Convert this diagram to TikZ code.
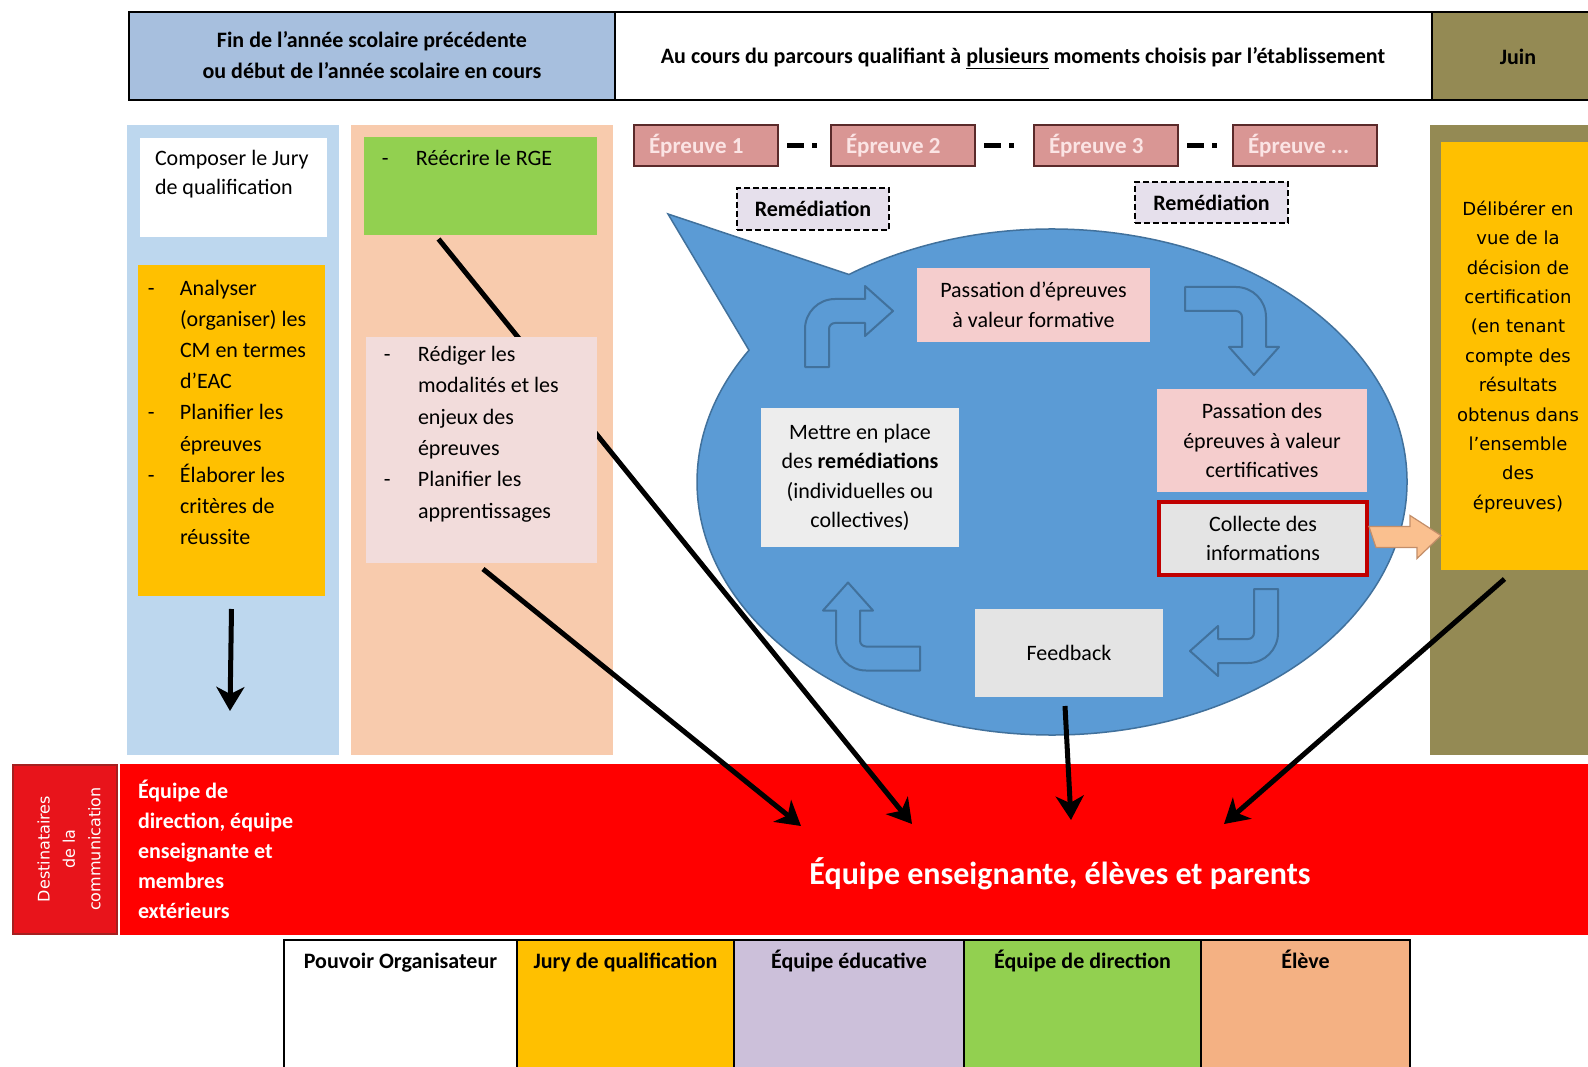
\documentclass[tikz,border=0pt]{standalone}
\usepackage{fontspec}
\setmainfont{Carlito}
\newfontfamily\verd{DejaVu Sans}
\usetikzlibrary{arrows.meta}
\newcommand\myfs[2]{\fontsize{#1}{#2}\selectfont}
\definecolor{hdrblue}{HTML}{A7BFDE}
\definecolor{colblue}{HTML}{BDD7EE}
\definecolor{gold}{HTML}{FFC000}
\definecolor{peach}{HTML}{F8CBAD}
\definecolor{grn}{HTML}{92D050}
\definecolor{pinklt}{HTML}{F2DCDB}
\definecolor{epfill}{HTML}{D99694}
\definecolor{epdraw}{HTML}{5A2A2A}
\definecolor{eptext}{HTML}{FBE4E4}
\definecolor{remfill}{HTML}{E6E0EC}
\definecolor{bblue}{HTML}{5B9BD5}
\definecolor{bdark}{HTML}{41719C}
\definecolor{ppink}{HTML}{F5CDCD}
\definecolor{greyA}{HTML}{EDEDED}
\definecolor{greyB}{HTML}{E4E4E4}
\definecolor{redbrd}{HTML}{C00000}
\definecolor{olive}{HTML}{948A54}
\definecolor{destred}{HTML}{E8141B}
\definecolor{destbrd}{HTML}{A52020}
\definecolor{lav}{HTML}{CCC0DA}
\definecolor{orpeach}{HTML}{F4B183}
\definecolor{orarr}{HTML}{FAC08F}
\newcommand{\bentarrow}[1]{(0,0) -- (0,#1) arc[start angle=180,end angle=90,radius=30] -- (60,#1+30) -- (60,#1+43) -- (88,#1+18) -- (60,#1-7) -- (60,#1+6) -- (30,#1+6) arc[start angle=90,end angle=180,radius=6] -- (24,0) -- cycle}
\begin{document}
\begin{tikzpicture}[x=1pt,y=-1pt,
  rect/.style={inner sep=0pt,outer sep=0pt},
  txt/.style={inner sep=0pt,outer sep=0pt,font=\myfs{22}{29.4}},
  hdr/.style={rect,draw=black,line width=1.5pt},
  epbox/.style={rect,draw=epdraw,line width=2pt,fill=epfill,minimum width=144,minimum height=41,font=\myfs{23}{28}\bfseries,text=eptext},
  rembox/.style={rect,draw=black,dash pattern=on 6pt off 3pt,line width=1.8pt,fill=remfill,font=\myfs{22}{28}\bfseries},
  dashdot/.style={line width=4.5pt,dash pattern=on 0pt off 9pt on 17pt off 8pt on 4.5pt off 200pt},
  inbox/.style={rect,font=\myfs{22}{29.4},align=center},
  bent/.style={fill=bblue,draw=bdark,line width=2pt,line join=round},
  blk/.style={line width=5pt,-{Stealth[length=24pt,width=28pt,inset=7pt]}},
  legcell/.style={rect,draw=black,line width=1.5pt,minimum height=135},
  legtxt/.style={txt,font=\myfs{22}{26}\bfseries,text height=16pt,text depth=5pt}
]
\useasboundingbox (0,0) rectangle (1588,1067);
\fill[white] (0,0) rectangle (1588,1067);

% header
\node[hdr,fill=hdrblue,minimum width=486,minimum height=88] (hA) at (372,56) {};
\node[hdr,fill=white,minimum width=817,minimum height=88] (hB) at (1023.5,56) {};
\node[hdr,fill=olive,minimum width=172,minimum height=88] (hC) at (1518,56) {};
\node[txt,font=\myfs{22}{30.4}\bfseries,align=center] (hAt) at (372,55) {Fin de l’année scolaire précédente\\ou début de l’année scolaire en cours};
\node[txt,font=\myfs{22}{29}\bfseries] (hBt) at (1023,58) {Au cours du parcours qualifiant à \underline{plusieurs} moments choisis par l’établissement};
\node[txt,font=\myfs{22}{29}\bfseries] (hCt) at (1518,57) {Juin};

% column backgrounds
\node[rect,fill=colblue,minimum width=212,minimum height=630] (col1) at (233,440) {};
\node[rect,fill=peach,minimum width=262,minimum height=630] (col2) at (482,440) {};
\node[rect,fill=olive,minimum width=170,minimum height=630] (col3) at (1515,440) {};

% column 1
\node[rect,fill=white,minimum width=187,minimum height=99] (compose) at (233.5,187.5) {};
\node[txt,align=left,anchor=west] (composet) at (155,174) {Composer le Jury\\de qualification};
\node[rect,fill=gold,minimum width=187,minimum height=331] (gold1) at (231.5,430.5) {};
\node[txt,font=\myfs{22}{31.2},align=left,anchor=west] (gold1t) at (180,412.3) {\llap{-\hspace{25.3pt}}Analyser\\(organiser) les\\CM en termes\\d’EAC\\\llap{-\hspace{25.3pt}}Planifier les\\épreuves\\\llap{-\hspace{25.3pt}}Élaborer les\\critères de\\réussite};

% column 2
\node[rect,fill=grn,minimum width=233,minimum height=98] (rge) at (480.5,186) {};
\node[txt,anchor=west] (rget) at (416,158) {\llap{-\hspace{27.3pt}}Réécrire le RGE};

% juin column
\node[rect,fill=gold,minimum width=159,minimum height=428] (delib) at (1520.5,356) {};
\node[txt,font=\verd\myfs{18}{29.4},align=center] (delibt) at (1518,357) {Délibérer en\\vue de la\\décision de\\certification\\(en tenant\\compte des\\résultats\\obtenus dans\\l’ensemble\\des\\épreuves)};

% épreuves
\node[epbox] (ep1) at (706,145.5) {\makebox[114pt][l]{Épreuve 1}};
\node[epbox] (ep2) at (903,145.5) {\makebox[114pt][l]{Épreuve 2}};
\node[epbox] (ep3) at (1106,145.5) {\makebox[114pt][l]{Épreuve 3}};
\node[epbox] (ep4) at (1305,145.5) {\makebox[114pt][l]{Épreuve ...}};
\draw[dashdot] (ep1.east) -- (ep2.west);
\draw[dashdot] (ep2.east) -- (ep3.west);
\draw[dashdot] (ep3.east) -- (ep4.west);
\node[rembox,minimum width=152,minimum height=42] (rem1) at (813,209) {Remédiation};
\node[rembox,minimum width=153,minimum height=41] (rem2) at (1211.5,202.5) {Remédiation};

% bubble
\draw[fill=bblue,draw=bdark,line width=1.5pt] (1052,482) ++(235.1:355 and 253) arc[start angle=235.1,end angle=571.4,x radius=355,y radius=253] -- (668,214) -- cycle;

\node[inbox,fill=ppink,minimum width=233,minimum height=74] (pform) at (1033.5,305) {Passation d’épreuves\\à valeur formative};
\node[inbox,fill=ppink,minimum width=210,minimum height=103] (pcert) at (1262,440.5) {Passation des\\épreuves à valeur\\certificatives};
\node[inbox,fill=greyB,draw=redbrd,line width=4pt,minimum width=208,minimum height=73] (collect) at (1263,538.5) {Collecte des\\informations};
\node[inbox,fill=greyA,minimum width=198,minimum height=139] (mettre) at (860,477.5) {Mettre en place\\des \textbf{remédiations}\\(individuelles ou\\collectives)};
\node[inbox,fill=greyB,minimum width=188,minimum height=88] (feedback) at (1069,653) {Feedback};

\begin{scope}[shift={(805,367)},yscale=-1]
\draw[bent] \bentarrow{38};
\end{scope}
\begin{scope}[shift={(1185,287)},rotate=-90,yscale=-1]
\draw[bent] \bentarrow{51};
\end{scope}
\begin{scope}[shift={(1278,589)},rotate=180,yscale=-1]
\draw[bent] \bentarrow{44};
\end{scope}
\begin{scope}[shift={(920,670.5)},rotate=90,yscale=-1]
\draw[bent] \bentarrow{54};
\end{scope}

% orange arrow from collect to delib
\draw[fill=orarr,draw=orpeach!80!black,line width=1.2pt] (collect.east) ++(2,-12) -- ++(41,0) -- ++(0,-11) -- (delib.west |- 0,535.5) -- ++(-24,23) -- ++(0,-11) -- ++(-41,0) -- cycle;

% red band
\node[rect,fill=red,minimum width=1480,minimum height=171] (band) at (860,849.5) {};
\node[rect,fill=destred,draw=destbrd,line width=2pt,minimum width=104,minimum height=169] (dest) at (65,849.5) {};
\node[txt,font=\verd\myfs{16}{25.3},align=center,text=white,rotate=90] (destt) at (69,849) {Destinataires\\de la\\communication};
\node[txt,font=\myfs{22}{30}\bfseries,align=left,anchor=west,text=white] (bandl) at (138,849) {Équipe de\\direction, équipe\\enseignante et\\membres\\extérieurs};
\node[txt,font=\myfs{32}{38}\bfseries,text=white] (bandc) at (1060,874) {Équipe enseignante, élèves et parents};

% legend
\node[legcell,fill=white,minimum width=233] (lg1) at (400.5,1007.5) {};
\node[legcell,fill=gold,minimum width=217] (lg2) at (625.5,1007.5) {};
\node[legcell,fill=lav,minimum width=230] (lg3) at (849,1007.5) {};
\node[legcell,fill=grn,minimum width=237] (lg4) at (1082.5,1007.5) {};
\node[legcell,fill=orpeach,minimum width=209] (lg5) at (1305.5,1007.5) {};
\node[legtxt] (lg1t) at (400.5,963) {Pouvoir Organisateur};
\node[legtxt] (lg2t) at (625.5,963) {Jury de qualification};
\node[legtxt] (lg3t) at (849,963) {Équipe éducative};
\node[legtxt] (lg4t) at (1082.5,963) {Équipe de direction};
\node[legtxt] (lg5t) at (1305.5,963) {Élève};

% black arrows
\coordinate (e1) at (912,824);
\coordinate (e2) at (801,826);
\coordinate (e3) at (1071,820);
\coordinate (e4) at (1224,824);
\coordinate (e5) at (230,711);
\draw[blk] ([xshift=-42pt,yshift=-4pt]rge.south) -- (e1);
\node[rect,fill=pinklt,minimum width=231,minimum height=226] (rediger) at (481.5,450) {};
\node[txt,font=\myfs{22}{31.4},align=left,anchor=west] (redigert) at (418,434) {\llap{-\hspace{27.3pt}}Rédiger les\\modalités et les\\enjeux des\\épreuves\\\llap{-\hspace{27.3pt}}Planifier les\\apprentissages};
\draw[blk] ([xshift=1.5pt,yshift=-6pt]rediger.south) -- (e2);
\draw[blk] ([xshift=-4pt,yshift=-9pt]feedback.south) -- (e3);
\draw[blk] ([xshift=-16pt,yshift=-9pt]delib.south) -- (e4);
\draw[blk] ([yshift=-13pt]gold1.south) -- (e5);
\end{tikzpicture}
\end{document}
